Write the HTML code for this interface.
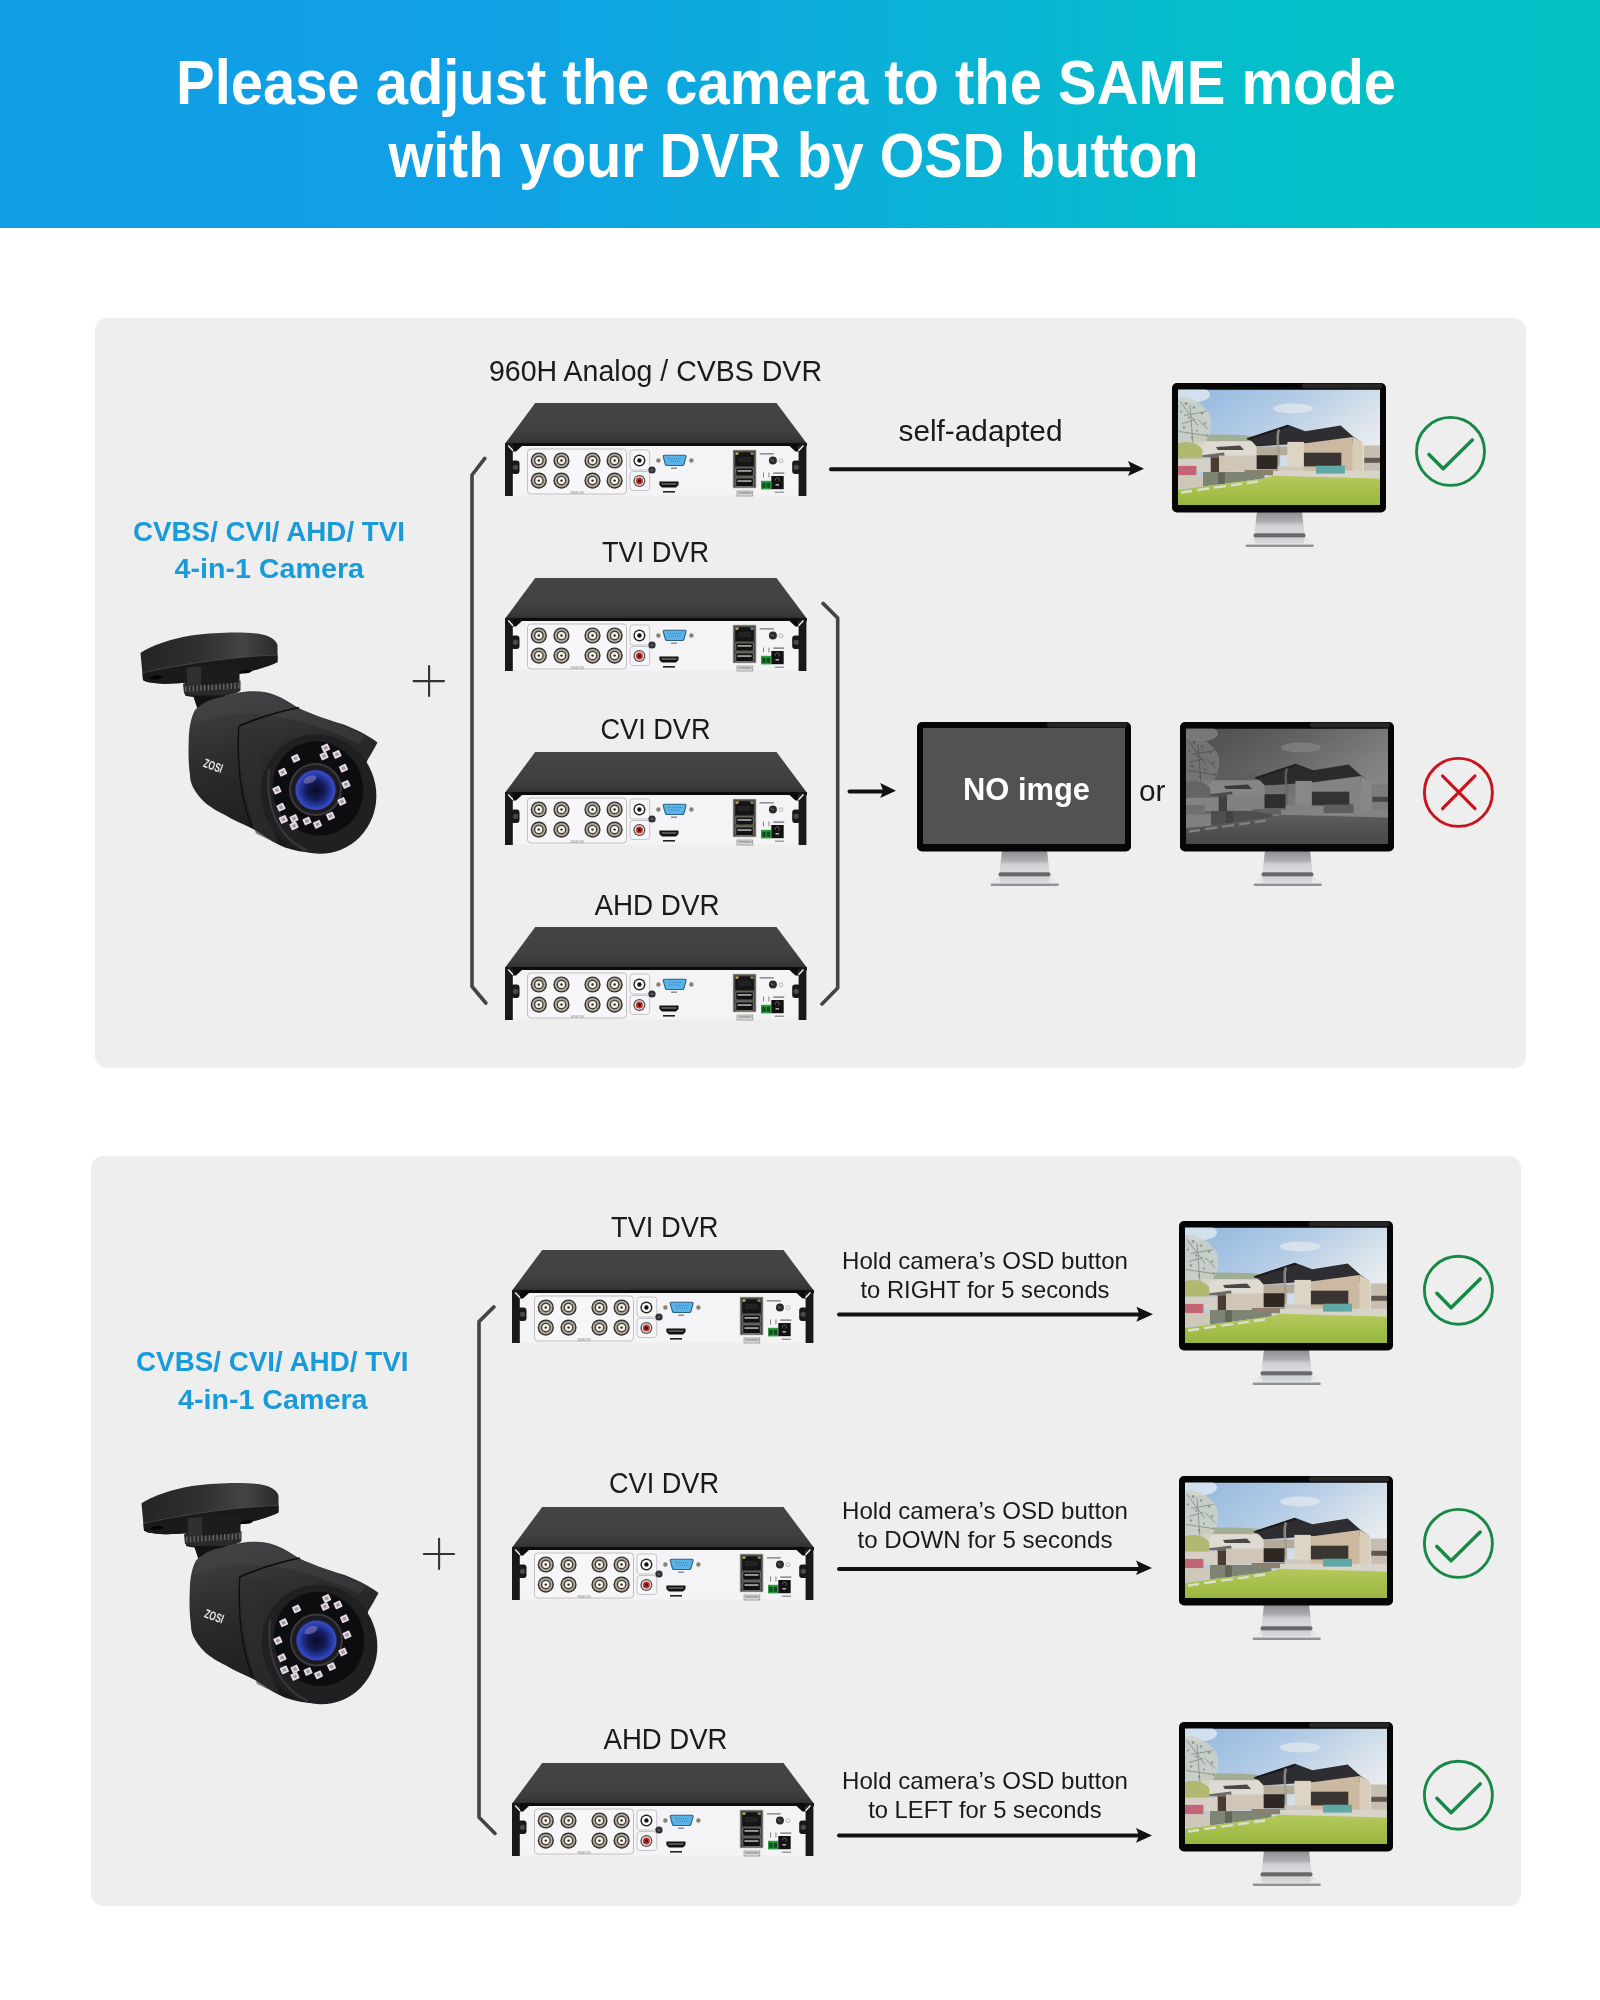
<!DOCTYPE html>
<html><head><meta charset="utf-8"><title>DVR mode</title>
<style>html,body{margin:0;padding:0;background:#fff;} svg{display:block;will-change:transform;} text{font-family:'Liberation Sans', sans-serif;}</style>
</head><body>
<svg width="1600" height="2000" viewBox="0 0 1600 2000">
<defs>
<linearGradient id="hdr" x1="0" y1="0" x2="1" y2="0">
  <stop offset="0" stop-color="#109fe6"/>
  <stop offset="0.3" stop-color="#10a0e5"/>
  <stop offset="0.55" stop-color="#0bb0d8"/>
  <stop offset="0.8" stop-color="#04bfc9"/>
  <stop offset="1" stop-color="#03c2c5"/>
</linearGradient>
<linearGradient id="lidg" x1="0" y1="0" x2="0" y2="1">
  <stop offset="0" stop-color="#454545"/>
  <stop offset="0.6" stop-color="#414141"/>
  <stop offset="0.85" stop-color="#373737"/>
  <stop offset="0.95" stop-color="#2c2c2c"/>
  <stop offset="1" stop-color="#1a1a1a"/>
</linearGradient>
<linearGradient id="neckg" x1="0" y1="0" x2="0" y2="1">
  <stop offset="0" stop-color="#8c8c90"/>
  <stop offset="0.45" stop-color="#acacb0"/>
  <stop offset="0.62" stop-color="#d0d0d4"/>
  <stop offset="1" stop-color="#dcdce0"/>
</linearGradient>
<linearGradient id="baseg" x1="0" y1="0" x2="0" y2="1">
  <stop offset="0" stop-color="#d8dadc"/>
  <stop offset="0.7" stop-color="#eceef0"/>
  <stop offset="0.85" stop-color="#9a9a9c"/>
  <stop offset="1" stop-color="#6a6a6a"/>
</linearGradient>
<linearGradient id="skyg" x1="0" y1="0" x2="0.9" y2="0.7">
  <stop offset="0" stop-color="#90b6de"/>
  <stop offset="0.45" stop-color="#b4cce6"/>
  <stop offset="0.8" stop-color="#dde5ec"/>
  <stop offset="1" stop-color="#eceff1"/>
</linearGradient>
<linearGradient id="lawng" x1="0" y1="0" x2="0" y2="1">
  <stop offset="0" stop-color="#b5c95e"/>
  <stop offset="0.5" stop-color="#a6c04c"/>
  <stop offset="1" stop-color="#98b640"/>
</linearGradient>
<radialGradient id="lensg" cx="0.5" cy="0.52" r="0.52">
  <stop offset="0" stop-color="#080b24"/>
  <stop offset="0.45" stop-color="#141c5c"/>
  <stop offset="0.78" stop-color="#2a3eb0"/>
  <stop offset="0.9" stop-color="#3a4cc0"/>
  <stop offset="1" stop-color="#10142e"/>
</radialGradient>
<linearGradient id="camg" x1="0" y1="0" x2="0.3" y2="1">
  <stop offset="0" stop-color="#444446"/>
  <stop offset="0.45" stop-color="#2c2c2e"/>
  <stop offset="1" stop-color="#1a1a1c"/>
</linearGradient>
<linearGradient id="discg" x1="0" y1="0" x2="0" y2="1">
  <stop offset="0" stop-color="#2c2c2e"/>
  <stop offset="0.4" stop-color="#3c3c3e"/>
  <stop offset="1" stop-color="#1e1e20"/>
</linearGradient>
<linearGradient id="discg2" x1="0" y1="0" x2="1" y2="0">
  <stop offset="0" stop-color="#242426"/>
  <stop offset="0.45" stop-color="#303032"/>
  <stop offset="0.75" stop-color="#444446"/>
  <stop offset="1" stop-color="#2a2a2c"/>
</linearGradient>
<filter id="gray" color-interpolation-filters="sRGB">
  <feColorMatrix type="matrix" values="1.06 -0.62 0.07 0 0.075  1.06 -0.62 0.07 0 0.075  1.06 -0.62 0.07 0 0.075  0 0 0 1 0"/>
</filter>
<g id="dvr"><path d="M30.2,0 H271.5 L301.4,40 V43.5 H0.5 V40 Z" fill="url(#lidg)"/><rect x="0" y="40" width="302" height="3" fill="#0c0c0c"/><rect x="7.5" y="43" width="286.2" height="49.6" fill="#f4f4f6"/><path d="M7.5,43 L17,43 L11,48.5 L7.5,48.5 Z" fill="#0c0c0c"/><path d="M293.7,43 L284.5,43 L290.5,48.5 L293.7,48.5 Z" fill="#0c0c0c"/><rect x="0" y="40" width="7.8" height="53" fill="#181818"/><rect x="293.6" y="40" width="7.8" height="53" fill="#181818"/><path d="M3.2,42.5 L8,47.8" stroke="#f2f2f2" stroke-width="1.4"/><path d="M298.4,42.5 L293.6,47.8" stroke="#f2f2f2" stroke-width="1.4"/><rect x="6" y="57.5" width="8.5" height="13.5" rx="3" fill="#181818"/><rect x="287.2" y="57.5" width="8.5" height="13.5" rx="3" fill="#181818"/><circle cx="10.5" cy="64.3" r="2.6" fill="#4a4a4a"/><circle cx="291.2" cy="64.3" r="2.6" fill="#4a4a4a"/><rect x="22.5" y="46" width="99" height="45" rx="3.5" fill="#f7f7f9" stroke="#b9b9bc" stroke-width="0.9"/><circle cx="33.8" cy="57.5" r="8.1" fill="#36312c"/><circle cx="33.8" cy="57.5" r="6.7" fill="#b3aea6"/><circle cx="33.8" cy="57.5" r="4.9" fill="#46403a"/><circle cx="33.8" cy="57.5" r="3.5" fill="#f6f2e8"/><circle cx="33.8" cy="57.5" r="1.2" fill="#2a2420"/><circle cx="33.8" cy="77.6" r="8.1" fill="#36312c"/><circle cx="33.8" cy="77.6" r="6.7" fill="#b3aea6"/><circle cx="33.8" cy="77.6" r="4.9" fill="#46403a"/><circle cx="33.8" cy="77.6" r="3.5" fill="#f6f2e8"/><circle cx="33.8" cy="77.6" r="1.2" fill="#2a2420"/><circle cx="56.5" cy="57.5" r="8.1" fill="#36312c"/><circle cx="56.5" cy="57.5" r="6.7" fill="#b3aea6"/><circle cx="56.5" cy="57.5" r="4.9" fill="#46403a"/><circle cx="56.5" cy="57.5" r="3.5" fill="#f6f2e8"/><circle cx="56.5" cy="57.5" r="1.2" fill="#2a2420"/><circle cx="56.5" cy="77.6" r="8.1" fill="#36312c"/><circle cx="56.5" cy="77.6" r="6.7" fill="#b3aea6"/><circle cx="56.5" cy="77.6" r="4.9" fill="#46403a"/><circle cx="56.5" cy="77.6" r="3.5" fill="#f6f2e8"/><circle cx="56.5" cy="77.6" r="1.2" fill="#2a2420"/><circle cx="87.5" cy="57.5" r="8.1" fill="#36312c"/><circle cx="87.5" cy="57.5" r="6.7" fill="#b3aea6"/><circle cx="87.5" cy="57.5" r="4.9" fill="#46403a"/><circle cx="87.5" cy="57.5" r="3.5" fill="#f6f2e8"/><circle cx="87.5" cy="57.5" r="1.2" fill="#2a2420"/><circle cx="87.5" cy="77.6" r="8.1" fill="#36312c"/><circle cx="87.5" cy="77.6" r="6.7" fill="#b3aea6"/><circle cx="87.5" cy="77.6" r="4.9" fill="#46403a"/><circle cx="87.5" cy="77.6" r="3.5" fill="#f6f2e8"/><circle cx="87.5" cy="77.6" r="1.2" fill="#2a2420"/><circle cx="109.6" cy="57.5" r="8.1" fill="#36312c"/><circle cx="109.6" cy="57.5" r="6.7" fill="#b3aea6"/><circle cx="109.6" cy="57.5" r="4.9" fill="#46403a"/><circle cx="109.6" cy="57.5" r="3.5" fill="#f6f2e8"/><circle cx="109.6" cy="57.5" r="1.2" fill="#2a2420"/><circle cx="109.6" cy="77.6" r="8.1" fill="#36312c"/><circle cx="109.6" cy="77.6" r="6.7" fill="#b3aea6"/><circle cx="109.6" cy="77.6" r="4.9" fill="#46403a"/><circle cx="109.6" cy="77.6" r="3.5" fill="#f6f2e8"/><circle cx="109.6" cy="77.6" r="1.2" fill="#2a2420"/><text x="72" y="90.5" font-size="3" fill="#777" text-anchor="middle">VIDEO IN</text><rect x="125" y="47" width="19.7" height="20" rx="3" fill="#f7f7f9" stroke="#b9b9bc" stroke-width="0.8"/><rect x="125" y="68.5" width="19.7" height="19" rx="3" fill="#f7f7f9" stroke="#b9b9bc" stroke-width="0.8"/><circle cx="134.4" cy="57.5" r="6" fill="#222"/><circle cx="134.4" cy="57.5" r="4.6" fill="#fff"/><circle cx="134.4" cy="57.5" r="2.2" fill="#111"/><circle cx="134.4" cy="78" r="6" fill="#4a4a4a"/><circle cx="134.4" cy="78" r="4.8" fill="#e8e6e6"/><circle cx="134.4" cy="78" r="3.5" fill="#c8302c"/><circle cx="134.4" cy="78" r="1.7" fill="#4a0a0a"/><circle cx="147" cy="67" r="3.6" fill="#2a2d33"/><circle cx="147" cy="67" r="1.6" fill="#555a60"/><circle cx="153.4" cy="57.5" r="2.2" fill="#8a8070"/><circle cx="186.4" cy="57.5" r="2.2" fill="#8a8070"/><path d="M159.5,52.3 H179.8 Q181.3,52.3 181,53.8 L179,61 Q178.6,62.5 177.2,62.5 H162.1 Q160.7,62.5 160.3,61 L158.3,53.8 Q158,52.3 159.5,52.3 Z" fill="#5ab2e6" stroke="#2a5f86" stroke-width="1.1"/><path d="M163,55.5 H176 M164,58 H175" stroke="#2f7fb8" stroke-width="0.9" stroke-dasharray="1 1"/><rect x="166" y="64.5" width="6" height="1.4" fill="#888"/><path d="M154.4,78.4 H173.5 V82 L171,84.4 H157 L154.4,82 Z" fill="#111"/><rect x="156.5" y="80" width="15" height="2" fill="#555"/><rect x="158" y="88" width="12" height="1.6" fill="#222"/><rect x="228.2" y="47.2" width="22.7" height="37.6" fill="#4d4b45" stroke="#8c8980" stroke-width="0.7"/><rect x="230.3" y="49.3" width="18.5" height="14" fill="#151515"/><path d="M230.5,49.5 h3.5 l-1,2.2 h-2.5 Z" fill="#c9b45a"/><path d="M248.6,49.5 h-3.5 l1,2.2 h2.5 Z" fill="#7a9a6a"/><rect x="233" y="54" width="13" height="5" fill="#222"/><rect x="230.8" y="65" width="17.5" height="8" rx="1" fill="#111" stroke="#9a988e" stroke-width="0.6"/><rect x="232.5" y="67.2" width="14" height="1.5" fill="#bdbdbd"/><rect x="230.8" y="75" width="17.5" height="8.5" rx="1" fill="#111" stroke="#9a988e" stroke-width="0.6"/><rect x="232.5" y="77.3" width="14" height="1.5" fill="#bdbdbd"/><rect x="232" y="88" width="15.8" height="5" fill="#dcdcdc" stroke="#8a8a8a" stroke-width="0.7"/><rect x="233.5" y="89.5" width="13" height="1" fill="#777"/><rect x="254.7" y="50.2" width="14" height="1.3" fill="#7a7a7a"/><circle cx="267.9" cy="57.5" r="4" fill="#2a2a2a"/><path d="M265.8,56.5 l3,1.5" stroke="#888" stroke-width="0.8"/><circle cx="276" cy="57.7" r="1.9" fill="none" stroke="#aaa" stroke-width="0.8"/><rect x="258" y="69.5" width="0.9" height="5" fill="#777"/><rect x="263.5" y="69.5" width="0.9" height="5" fill="#777"/><rect x="256" y="77.8" width="10.3" height="8.6" fill="#2c9a3e"/><rect x="257.3" y="79.8" width="3.3" height="5" fill="#0f4d1c"/><rect x="261.7" y="79.8" width="3.3" height="5" fill="#0f4d1c"/><rect x="266.3" y="73" width="12.4" height="13.2" fill="#121212"/><path d="M270.5,77.5 a2,2 0 1,1 3,1" stroke="#777" stroke-width="0.8" fill="none"/><rect x="270.5" y="81" width="3.5" height="1.6" fill="#aaa"/><rect x="268.3" y="69.5" width="11" height="1.2" fill="#666"/><rect x="269.8" y="88.6" width="9.2" height="1.2" fill="#888"/></g><g id="house"><rect x="0" y="0" width="202" height="115.5" fill="url(#skyg)"/><ellipse cx="14" cy="5" rx="18" ry="8" fill="#e6edf4" opacity="0.75"/><ellipse cx="115" cy="19" rx="20" ry="5" fill="#e4e9ee" opacity="0.7"/><path d="M13,47 C30,44 60,45 80,47 L80,53 L13,53 Z" fill="#a2ad96"/><rect x="13" y="51.7" width="66" height="16" fill="#dfdbd2"/><path d="M38,57.5 L62,56 L66,60.4 L39.8,60.4 Z" fill="#4a4846"/><path d="M22,66 L46,63 L47,67.8 L24.4,67.8 Z" fill="#6c6a66"/><rect x="32.5" y="67.8" width="8.7" height="14.7" fill="#4a3c32"/><rect x="0" y="69" width="32.5" height="13.5" fill="#d6cfc6"/><rect x="41" y="66" width="37" height="16" fill="#cfc6b8"/><path d="M0,8 C12,6 26,14 32,26 C36,38 30,50 24,56 L0,58 Z" fill="#cfd2c4" opacity="0.8"/><path d="M2,12 L20,36 M6,26 L28,22 M1,42 L28,46 M12,16 L15,55 M20,30 L30,40 M4,34 L18,30" stroke="#6c7460" stroke-width="1" opacity="0.6"/><g fill="#7c866c" opacity="0.7"><circle cx="8" cy="14" r="1.4"/><circle cx="16" cy="18" r="1.2"/><circle cx="24" cy="24" r="1.3"/><circle cx="11" cy="28" r="1.1"/><circle cx="27" cy="34" r="1.2"/><circle cx="6" cy="38" r="1.3"/><circle cx="19" cy="41" r="1.1"/><circle cx="29" cy="46" r="1.2"/><circle cx="14" cy="48" r="1.2"/><circle cx="3" cy="22" r="1.1"/></g><path d="M0,53.7 C8,51 20,53 24.4,60 L24.4,69 L0,69 Z" fill="#b1b872"/><path d="M68.6,49 L110,35.2 L127.4,41.7 L162.6,35.9 L174.8,46.7 L184.1,53.2 L174.8,53.9 L125.9,53.9 L78.6,57 L74,52 Z" fill="#2e2e32"/><path d="M68.6,49 L110,35.2 L111,37.2 L70,50.5 Z" fill="#1c1c20"/><rect x="78.6" y="57" width="31" height="8.7" fill="#b3aa99"/><rect x="78.6" y="65.7" width="21.4" height="14.1" fill="#2f2822"/><rect x="109.4" y="52.4" width="16.5" height="24.5" fill="#ddd4c4"/><path d="M125.9,53.9 L174.8,47.4 L174.8,83.4 L125.9,83.4 Z" fill="#cbb9a1"/><path d="M174.8,47.4 L184.9,53 L184.9,83.4 L174.8,83.4 Z" fill="#dacdb8"/><rect x="125.9" y="63.2" width="37.4" height="13.7" fill="#3a3530"/><path d="M101,40 C97,50 103,62 100,80" stroke="#a09c8c" stroke-width="2.6" fill="none" opacity="0.8"/><rect x="66.6" y="80.5" width="33.4" height="5.3" fill="#8d7f70"/><rect x="100" y="76.9" width="26" height="6.5" fill="#d0c8ba"/><rect x="185.6" y="56" width="16.4" height="27.4" fill="#c6beb0"/><rect x="186.3" y="68.3" width="15.7" height="5" fill="#5e5850"/><rect x="95" y="81.2" width="107" height="7.9" fill="#d8d4c9"/><rect x="138" y="76.2" width="28.9" height="7.9" fill="#5fa8a6"/><rect x="0" y="76.4" width="18.4" height="9.4" fill="#c26676"/><path d="M0,85.8 L25,85.8 L25,97.8 L0,99 Z" fill="#cfc7b7"/><path d="M25,82.5 L66.6,82.5 L86.6,85.8 L86.6,89 L25,97 Z" fill="#7e8574"/><path d="M40,83 L47,83 L47,94 L40,95 Z" fill="#5a5e52" opacity="0.8"/><path d="M0,100.4 L82,89.5 L95,86.2 L202,89.1 L202,115.5 L0,115.5 Z" fill="url(#lawng)"/><path d="M3,103 L14,101.5 M19,100.6 L31,99 M36,98.2 L48,96.6 M53,95.8 L64,94.3 M69,93.5 L80,92" stroke="#dcdfcc" stroke-width="2.3"/></g><clipPath id="scr"><rect x="0" y="0" width="202" height="115.5"/></clipPath><g id="monbase"><path d="M82.5,153.5 H132.5 L141.5,161.5 Q142.5,163.8 140,163.8 H75.5 Q73,163.8 74,161.5 Z" fill="url(#baseg)"/><path d="M85,128 L130,128 L132.5,151 L82.5,151 Z" fill="url(#neckg)"/><rect x="81.5" y="150.3" width="52" height="4.2" rx="2" fill="#69696b"/><rect x="83" y="154.5" width="49" height="6" fill="#c8c8cc" opacity="0.6"/><rect x="0" y="0" width="214" height="129.5" rx="5" fill="#060606"/><rect x="130" y="0.6" width="80" height="5" rx="2" fill="#262626"/></g><g id="cam"><path d="M11.5,33.5 C20,27 45,18 66,15.5 C85,13 115,12 131,14.5 C140,16 147,20 148.5,25.5 L148.5,42.5 C140,47 120,53 91,58.5 C70,62 45,65 31,64 C22,63.5 15,62 14,60.5 Z" fill="url(#discg2)"/><path d="M13.5,53.5 C40,47 100,37 148.5,35.5 L148.5,42.5 C140,47 120,53 91,58.5 C70,62 45,65 31,64 C22,63.5 15,62 14,60.5 Z" fill="#19191b"/><path d="M13.5,53.5 C40,47 100,37 148.5,35.5" stroke="#4a4a4c" stroke-width="0.8" fill="none"/><ellipse cx="27" cy="58" rx="6.5" ry="1.9" fill="#050505" transform="rotate(-6 27 58)"/><ellipse cx="117" cy="52" rx="6" ry="1.8" fill="#050505" transform="rotate(-8 117 52)"/><path d="M55,48 L110.5,44 L110.5,72 C100,78 70,80 56,76 Z" fill="#1c1c1e"/><path d="M58,48 L72,47 L72,66 L58,66 Z" fill="#303032"/><path d="M54,64 C70,68 100,66 111.5,61 L111.5,71 C100,77 70,79 55,74 Z" fill="#2a2a2c"/><rect x="56.0" y="66.5" width="1.4" height="6" fill="#646466"/><rect x="59.8" y="66.2" width="1.4" height="6" fill="#646466"/><rect x="63.6" y="66.0" width="1.4" height="6" fill="#646466"/><rect x="67.4" y="65.8" width="1.4" height="6" fill="#646466"/><rect x="71.2" y="65.5" width="1.4" height="6" fill="#646466"/><rect x="75.0" y="65.2" width="1.4" height="6" fill="#646466"/><rect x="78.8" y="65.0" width="1.4" height="6" fill="#646466"/><rect x="82.6" y="64.8" width="1.4" height="6" fill="#646466"/><rect x="86.4" y="64.5" width="1.4" height="6" fill="#646466"/><rect x="90.2" y="64.2" width="1.4" height="6" fill="#646466"/><rect x="94.0" y="64.0" width="1.4" height="6" fill="#646466"/><rect x="97.8" y="63.8" width="1.4" height="6" fill="#646466"/><rect x="101.6" y="63.5" width="1.4" height="6" fill="#646466"/><rect x="105.4" y="63.2" width="1.4" height="6" fill="#646466"/><rect x="109.2" y="63.0" width="1.4" height="6" fill="#646466"/><path d="M64,76 L98,76 L106,94 L72,100 Z" fill="#131315"/><path d="M66,90.5 C72,84 82,79 91,78 C100,75 112,72 121,71.75 C132,71.5 140,73 146,75.5 C155,79 162,84 168.5,88 C185,96 205,102 216,105.5 C232,112 242,118 248.5,123 L243,133 L238.5,140.5 L210,222 L186,233 C175,233 165,231 156,228 C145,224 135,216 126,210.5 C115,205 105,201 96,195.5 C85,190 77,185 71,178 C63,168 61,162 61,155.5 C59,140 59.5,130 59.75,120.5 C60,108 62,98 66,90.5 Z" fill="url(#camg)"/><path d="M68,90 C80,80 100,74 121,73 C140,73 155,80 168,88 C190,98 215,106 236,116 L230,124 C205,112 180,104 160,99 C130,92 95,92 64,105 Z" fill="#48484b" opacity="0.45"/><path d="M109.75,106.75 C130,98 150,92 170,88" stroke="#0c0c0e" stroke-width="1.6" fill="none"/><path d="M109.75,106.75 C108,140 111,178 123,208" stroke="#0e0e10" stroke-width="1.4" fill="none"/><path d="M111.5,108 C110,140 114,178 127,214 L150,225 C135,195 128,150 138,110 Z" fill="#303033" opacity="0.6"/><ellipse cx="0" cy="0" rx="57.5" ry="60" transform="translate(189.5,174.5) rotate(-22)" fill="#202022"/><path d="M140,150 C136,185 148,218 178,231" stroke="#38383a" stroke-width="2" fill="none"/><ellipse cx="0" cy="0" rx="45" ry="47.5" transform="translate(189,169) rotate(-22)" fill="#0d0d0f"/><circle cx="186.5" cy="170" r="25.5" fill="#1c1c20" stroke="#3a3a3e" stroke-width="2"/><circle cx="186.5" cy="170" r="20.5" fill="url(#lensg)"/><ellipse cx="181" cy="160" rx="7" ry="3.5" fill="#9a8ac8" opacity="0.5" transform="rotate(-25 181 160)"/><rect x="192.9" y="125.0" width="7.4" height="6.8" rx="0.7" fill="#e2dde6" transform="rotate(-25 196.6 128.4)"/><rect x="194.8" y="126.8" width="3.6" height="3.2" fill="#a8939f" transform="rotate(-25 196.6 128.4)"/><rect x="204.3" y="131.5" width="7.4" height="6.8" rx="0.7" fill="#e2dde6" transform="rotate(-25 208 134.9)"/><rect x="206.2" y="133.3" width="3.6" height="3.2" fill="#a8939f" transform="rotate(-25 208 134.9)"/><rect x="191.3" y="133.1" width="7.4" height="6.8" rx="0.7" fill="#e2dde6" transform="rotate(-25 195 136.5)"/><rect x="193.2" y="134.9" width="3.6" height="3.2" fill="#a8939f" transform="rotate(-25 195 136.5)"/><rect x="162.9" y="135.5" width="7.4" height="6.8" rx="0.7" fill="#e2dde6" transform="rotate(-25 166.6 138.9)"/><rect x="164.8" y="137.3" width="3.6" height="3.2" fill="#a8939f" transform="rotate(-25 166.6 138.9)"/><rect x="210.8" y="145.3" width="7.4" height="6.8" rx="0.7" fill="#e2dde6" transform="rotate(-25 214.5 148.7)"/><rect x="212.7" y="147.1" width="3.6" height="3.2" fill="#a8939f" transform="rotate(-25 214.5 148.7)"/><rect x="149.9" y="149.3" width="7.4" height="6.8" rx="0.7" fill="#e2dde6" transform="rotate(-25 153.6 152.7)"/><rect x="151.8" y="151.1" width="3.6" height="3.2" fill="#a8939f" transform="rotate(-25 153.6 152.7)"/><rect x="213.3" y="161.5" width="7.4" height="6.8" rx="0.7" fill="#e2dde6" transform="rotate(-25 217 164.9)"/><rect x="215.2" y="163.3" width="3.6" height="3.2" fill="#a8939f" transform="rotate(-25 217 164.9)"/><rect x="144.2" y="167.2" width="7.4" height="6.8" rx="0.7" fill="#e2dde6" transform="rotate(-25 147.9 170.6)"/><rect x="146.1" y="169.0" width="3.6" height="3.2" fill="#a8939f" transform="rotate(-25 147.9 170.6)"/><rect x="209.2" y="178.6" width="7.4" height="6.8" rx="0.7" fill="#e2dde6" transform="rotate(-25 212.9 182)"/><rect x="211.1" y="180.4" width="3.6" height="3.2" fill="#a8939f" transform="rotate(-25 212.9 182)"/><rect x="148.3" y="184.3" width="7.4" height="6.8" rx="0.7" fill="#e2dde6" transform="rotate(-25 152 187.7)"/><rect x="150.2" y="186.1" width="3.6" height="3.2" fill="#a8939f" transform="rotate(-25 152 187.7)"/><rect x="197.8" y="193.2" width="7.4" height="6.8" rx="0.7" fill="#e2dde6" transform="rotate(-25 201.5 196.6)"/><rect x="199.7" y="195.0" width="3.6" height="3.2" fill="#a8939f" transform="rotate(-25 201.5 196.6)"/><rect x="150.7" y="196.5" width="7.4" height="6.8" rx="0.7" fill="#e2dde6" transform="rotate(-25 154.4 199.9)"/><rect x="152.6" y="198.3" width="3.6" height="3.2" fill="#a8939f" transform="rotate(-25 154.4 199.9)"/><rect x="161.3" y="203.0" width="7.4" height="6.8" rx="0.7" fill="#e2dde6" transform="rotate(-25 165 206.4)"/><rect x="163.2" y="204.8" width="3.6" height="3.2" fill="#a8939f" transform="rotate(-25 165 206.4)"/><rect x="184.8" y="201.4" width="7.4" height="6.8" rx="0.7" fill="#e2dde6" transform="rotate(-25 188.5 204.8)"/><rect x="186.7" y="203.2" width="3.6" height="3.2" fill="#a8939f" transform="rotate(-25 188.5 204.8)"/><rect x="161.3" y="195.6" width="7.4" height="6.8" rx="0.7" fill="#e2dde6" transform="rotate(-25 165 199)"/><rect x="163.2" y="197.4" width="3.6" height="3.2" fill="#a8939f" transform="rotate(-25 165 199)"/><rect x="174.3" y="198.1" width="7.4" height="6.8" rx="0.7" fill="#e2dde6" transform="rotate(-25 178 201.5)"/><rect x="176.2" y="199.9" width="3.6" height="3.2" fill="#a8939f" transform="rotate(-25 178 201.5)"/><text x="0" y="0" font-size="12.5" font-weight="bold" fill="#e6e6e6" transform="translate(73.5,147) rotate(20)" textLength="19.5" lengthAdjust="spacingAndGlyphs">ZOSI</text></g></defs>
<rect x="0" y="0" width="1600" height="2000" fill="#fff"/><rect x="0" y="0" width="1600" height="228" fill="url(#hdr)"/><text x="176" y="104" font-size="62.5" font-weight="bold" fill="#fff" textLength="1220" lengthAdjust="spacingAndGlyphs" >Please adjust the camera to the SAME mode</text><text x="388.5" y="177" font-size="62.5" font-weight="bold" fill="#fff" textLength="810" lengthAdjust="spacingAndGlyphs" >with your DVR by OSD button</text><rect x="95" y="318" width="1431" height="750" rx="12" fill="#eeeeee"/><rect x="91" y="1156" width="1430" height="750" rx="12" fill="#eeeeee"/><text x="489" y="381.3" font-size="30" font-weight="normal" fill="#1a1a1a" textLength="333" lengthAdjust="spacingAndGlyphs" >960H Analog / CVBS DVR</text><text x="898.5" y="440.6" font-size="29" font-weight="normal" fill="#1a1a1a" textLength="164" lengthAdjust="spacingAndGlyphs" >self-adapted</text><text x="602" y="562" font-size="29" font-weight="normal" fill="#1a1a1a" textLength="107" lengthAdjust="spacingAndGlyphs" >TVI DVR</text><text x="600.5" y="738.5" font-size="29" font-weight="normal" fill="#1a1a1a" textLength="110" lengthAdjust="spacingAndGlyphs" >CVI DVR</text><text x="594.5" y="914.5" font-size="29" font-weight="normal" fill="#1a1a1a" textLength="125" lengthAdjust="spacingAndGlyphs" >AHD DVR</text><text x="133" y="540.6" font-size="27" font-weight="bold" fill="#1a9bd9" textLength="272" lengthAdjust="spacingAndGlyphs" stroke="#eeeeee" stroke-width="0.7" paint-order="stroke">CVBS/ CVI/ AHD/ TVI</text><text x="174.5" y="578.1" font-size="27" font-weight="bold" fill="#1a9bd9" textLength="189.5" lengthAdjust="spacingAndGlyphs" stroke="#eeeeee" stroke-width="0.7" paint-order="stroke">4-in-1 Camera</text><text x="611" y="1237" font-size="29" font-weight="normal" fill="#1a1a1a" textLength="107.5" lengthAdjust="spacingAndGlyphs" >TVI DVR</text><text x="609" y="1493" font-size="29" font-weight="normal" fill="#1a1a1a" textLength="110" lengthAdjust="spacingAndGlyphs" >CVI DVR</text><text x="603.5" y="1748.8" font-size="29" font-weight="normal" fill="#1a1a1a" textLength="124" lengthAdjust="spacingAndGlyphs" >AHD DVR</text><text x="136" y="1371" font-size="27" font-weight="bold" fill="#1a9bd9" textLength="272.5" lengthAdjust="spacingAndGlyphs" stroke="#eeeeee" stroke-width="0.7" paint-order="stroke">CVBS/ CVI/ AHD/ TVI</text><text x="178" y="1409" font-size="27" font-weight="bold" fill="#1a9bd9" textLength="189.5" lengthAdjust="spacingAndGlyphs" stroke="#eeeeee" stroke-width="0.7" paint-order="stroke">4-in-1 Camera</text><text x="842" y="1268.7" font-size="24" font-weight="normal" fill="#1a1a1a" textLength="286" lengthAdjust="spacingAndGlyphs" >Hold camera’s OSD button</text><text x="860.5" y="1297.7" font-size="24" font-weight="normal" fill="#1a1a1a" textLength="249" lengthAdjust="spacingAndGlyphs" >to RIGHT for 5 seconds</text><text x="842" y="1518.7" font-size="24" font-weight="normal" fill="#1a1a1a" textLength="286" lengthAdjust="spacingAndGlyphs" >Hold camera’s OSD button</text><text x="857.5" y="1547.7" font-size="24" font-weight="normal" fill="#1a1a1a" textLength="255" lengthAdjust="spacingAndGlyphs" >to DOWN for 5 seconds</text><text x="842" y="1788.7" font-size="24" font-weight="normal" fill="#1a1a1a" textLength="286" lengthAdjust="spacingAndGlyphs" >Hold camera’s OSD button</text><text x="868.2" y="1817.7" font-size="24" font-weight="normal" fill="#1a1a1a" textLength="233.5" lengthAdjust="spacingAndGlyphs" >to LEFT for 5 seconds</text><use href="#dvr" x="505" y="403"/><use href="#dvr" x="505" y="578"/><use href="#dvr" x="505" y="752"/><use href="#dvr" x="505" y="927"/><use href="#dvr" x="512" y="1250"/><use href="#dvr" x="512" y="1507"/><use href="#dvr" x="512" y="1763"/><path d="M484.8,458.4 L472,475 L472,986.5 L485.8,1003" fill="none" stroke="#444" stroke-width="3.6" stroke-linecap="round" stroke-linejoin="round"/><path d="M823,603.4 L837.7,618 L837.7,988 L822,1004" fill="none" stroke="#444" stroke-width="3.6" stroke-linecap="round" stroke-linejoin="round"/><path d="M493.9,1306.9 L479,1321.6 L479,1817.2 L495,1833.4" fill="none" stroke="#444" stroke-width="3.6" stroke-linecap="round" stroke-linejoin="round"/><path d="M831,469.3 L1131,469.3" stroke="#111" stroke-width="4" stroke-linecap="round"/><path d="M1144,468.8 L1128,461 L1131,468.8 L1128,476 Z" fill="#111"/><path d="M849.5,791.5 L883.2,791.5" stroke="#111" stroke-width="4" stroke-linecap="round"/><path d="M896,790.8 L880.2,783.1 L883.2,790.8 L880.2,798 Z" fill="#111"/><path d="M839,1314.5 L1139.4,1314.5" stroke="#111" stroke-width="4" stroke-linecap="round"/><path d="M1153,1314.3 L1136.4,1306.8 L1139.4,1314.3 L1136.4,1321.8 Z" fill="#111"/><path d="M839,1568.9 L1139,1568.9" stroke="#111" stroke-width="4" stroke-linecap="round"/><path d="M1152,1567.9 L1136,1560.5 L1139,1567.9 L1136,1574.9 Z" fill="#111"/><path d="M839,1835.5 L1139,1835.5" stroke="#111" stroke-width="4" stroke-linecap="round"/><path d="M1152,1835.4 L1136,1828.1 L1139,1835.4 L1136,1842.7 Z" fill="#111"/><path d="M413.6,681.1 H444 M429.1,666.1 V695.9" stroke="#333" stroke-width="2.1" stroke-linecap="round"/><path d="M423.8,1554 H454 M439.1,1538.8 V1569" stroke="#333" stroke-width="2.1" stroke-linecap="round"/><g transform="translate(1172,383)"><use href="#monbase"/><g transform="translate(6,6.5)" clip-path="url(#scr)"><use href="#house"/></g></g><g transform="translate(917,722)"><use href="#monbase"/><rect x="6" y="6" width="202" height="116" fill="#525252"/></g><g transform="translate(1180,722)"><use href="#monbase"/><g transform="translate(6,6.5)" clip-path="url(#scr)" filter="url(#gray)"><use href="#house"/></g><g transform="translate(6,6.5)"><rect x="137.5" y="76" width="29.9" height="8.3" fill="#5e5e5e"/><rect x="0" y="76.2" width="18.8" height="9.8" fill="#707070"/></g></g><g transform="translate(1179,1221)"><use href="#monbase"/><g transform="translate(6,6.5)" clip-path="url(#scr)"><use href="#house"/></g></g><g transform="translate(1179,1476)"><use href="#monbase"/><g transform="translate(6,6.5)" clip-path="url(#scr)"><use href="#house"/></g></g><g transform="translate(1179,1722)"><use href="#monbase"/><g transform="translate(6,6.5)" clip-path="url(#scr)"><use href="#house"/></g></g><text x="963" y="799.75" font-size="32" font-weight="bold" fill="#fff" textLength="127" lengthAdjust="spacingAndGlyphs" >NO imge</text><text x="1139" y="800.5" font-size="30" font-weight="normal" fill="#1a1a1a" textLength="26.5" lengthAdjust="spacingAndGlyphs" >or</text><circle cx="1450.5" cy="451.4" r="34" fill="none" stroke="#168a45" stroke-width="2.9"/><path d="M1429.0,454.4 L1443.2,468.79999999999995 L1472.3,440.0" fill="none" stroke="#168a45" stroke-width="3.5" stroke-linecap="round" stroke-linejoin="round"/><circle cx="1458.4" cy="1290.3" r="34" fill="none" stroke="#168a45" stroke-width="2.9"/><path d="M1436.9,1293.3 L1451.1000000000001,1307.7 L1480.2,1278.8999999999999" fill="none" stroke="#168a45" stroke-width="3.5" stroke-linecap="round" stroke-linejoin="round"/><circle cx="1458.4" cy="1543.4" r="34" fill="none" stroke="#168a45" stroke-width="2.9"/><path d="M1436.9,1546.4 L1451.1000000000001,1560.8000000000002 L1480.2,1532.0" fill="none" stroke="#168a45" stroke-width="3.5" stroke-linecap="round" stroke-linejoin="round"/><circle cx="1458.4" cy="1795.3" r="34" fill="none" stroke="#168a45" stroke-width="2.9"/><path d="M1436.9,1798.3 L1451.1000000000001,1812.7 L1480.2,1783.8999999999999" fill="none" stroke="#168a45" stroke-width="3.5" stroke-linecap="round" stroke-linejoin="round"/><circle cx="1458.4" cy="792.4" r="34" fill="none" stroke="#c8141e" stroke-width="2.9"/><path d="M1442.5,775.9 L1475,808.7 M1475,775.9 L1442.5,808.7" stroke="#c8141e" stroke-width="3.2" stroke-linecap="round"/><use href="#cam" x="129" y="619.5"/><use href="#cam" x="130" y="1470"/>
</svg>
</body></html>
